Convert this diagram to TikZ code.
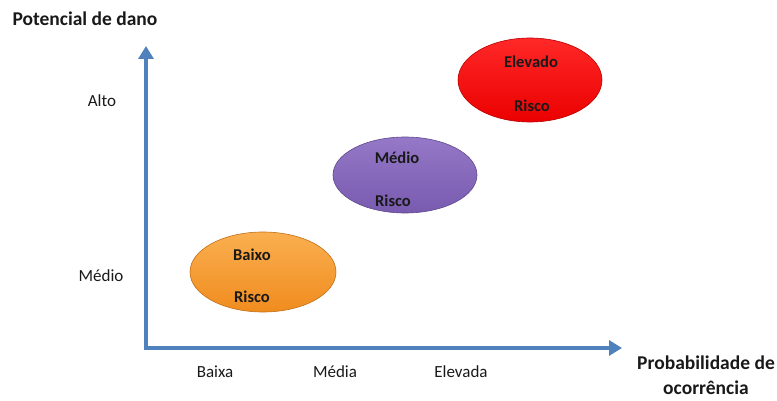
\documentclass[tikz,border=0pt]{standalone}
\usepackage{fontspec}
\setmainfont{Carlito}
\usetikzlibrary{arrows.meta,shapes.geometric}
\definecolor{axisblue}{RGB}{79,129,189}
\definecolor{orangeA}{RGB}{250,175,80}
\definecolor{orangeB}{RGB}{240,140,30}
\definecolor{purpleA}{RGB}{150,120,200}
\definecolor{purpleB}{RGB}{120,90,175}
\definecolor{redA}{RGB}{255,40,40}
\definecolor{redB}{RGB}{235,0,0}
\definecolor{txt}{RGB}{25,25,25}
\tikzset{
  axis/.style={draw=axisblue,line width=4.5pt,-{Triangle[width=15pt,length=13pt]}},
  lbl/.style={font=\fontsize{17}{19}\selectfont,text=txt},
  blbl/.style={font=\fontsize{19.5}{22}\selectfont\bfseries,text=txt},
  etxt/.style={font=\fontsize{16.5}{19}\selectfont\bfseries,text=txt}
}
\begin{document}
\begin{tikzpicture}[x=1pt,y=-1pt]
\useasboundingbox (0,0) rectangle (777,401);
% axes
\coordinate (O) at (146,348);
\coordinate (ytip) at (146,46);
\coordinate (xtip) at (622,348);
\coordinate (ystart) at (146,350);
\coordinate (xstart) at (144,348);
\draw[axis] (ystart) -- (ytip);
\draw[axis] (xstart) -- (xtip);
% ellipses
\node[ellipse,minimum width=146pt,minimum height=80pt,draw=orangeB!80!black,top color=orangeA,bottom color=orangeB,line width=0.6pt] (baixo) at (263,272) {};
\node[ellipse,minimum width=144pt,minimum height=76pt,draw=purpleB!80!black,top color=purpleA,bottom color=purpleB,line width=0.6pt] (medio) at (405,175) {};
\node[ellipse,minimum width=144pt,minimum height=84pt,draw=redB!80!black,top color=redA,bottom color=redB,line width=0.6pt] (elevado) at (530,80) {};
\node[etxt] (t1) at (252,255) {Baixo};
\node[etxt] (t2) at (252,297) {Risco};
\node[etxt] (t3) at (397,158) {Médio};
\node[etxt] (t4) at (393,201) {Risco};
\node[etxt] (t5) at (531,62) {Elevado};
\node[etxt] (t6) at (532,106) {Risco};
% labels
\node[blbl,anchor=west] (ylab) at (9,19) {Potencial de dano};
\node[lbl] (alto) at (102,101) {Alto};
\node[lbl] (ymed) at (101,276) {Médio};
\node[lbl] (baixa) at (215,372) {Baixa};
\node[lbl] (xmed) at (335,372) {Média};
\node[lbl] (elev) at (461,372) {Elevada};
\node[blbl] (xlab1) at (706,363) {Probabilidade de};
\node[blbl,inner sep=1pt] (xlab2) at (706,388) {ocorrência};
\end{tikzpicture}
\end{document}
